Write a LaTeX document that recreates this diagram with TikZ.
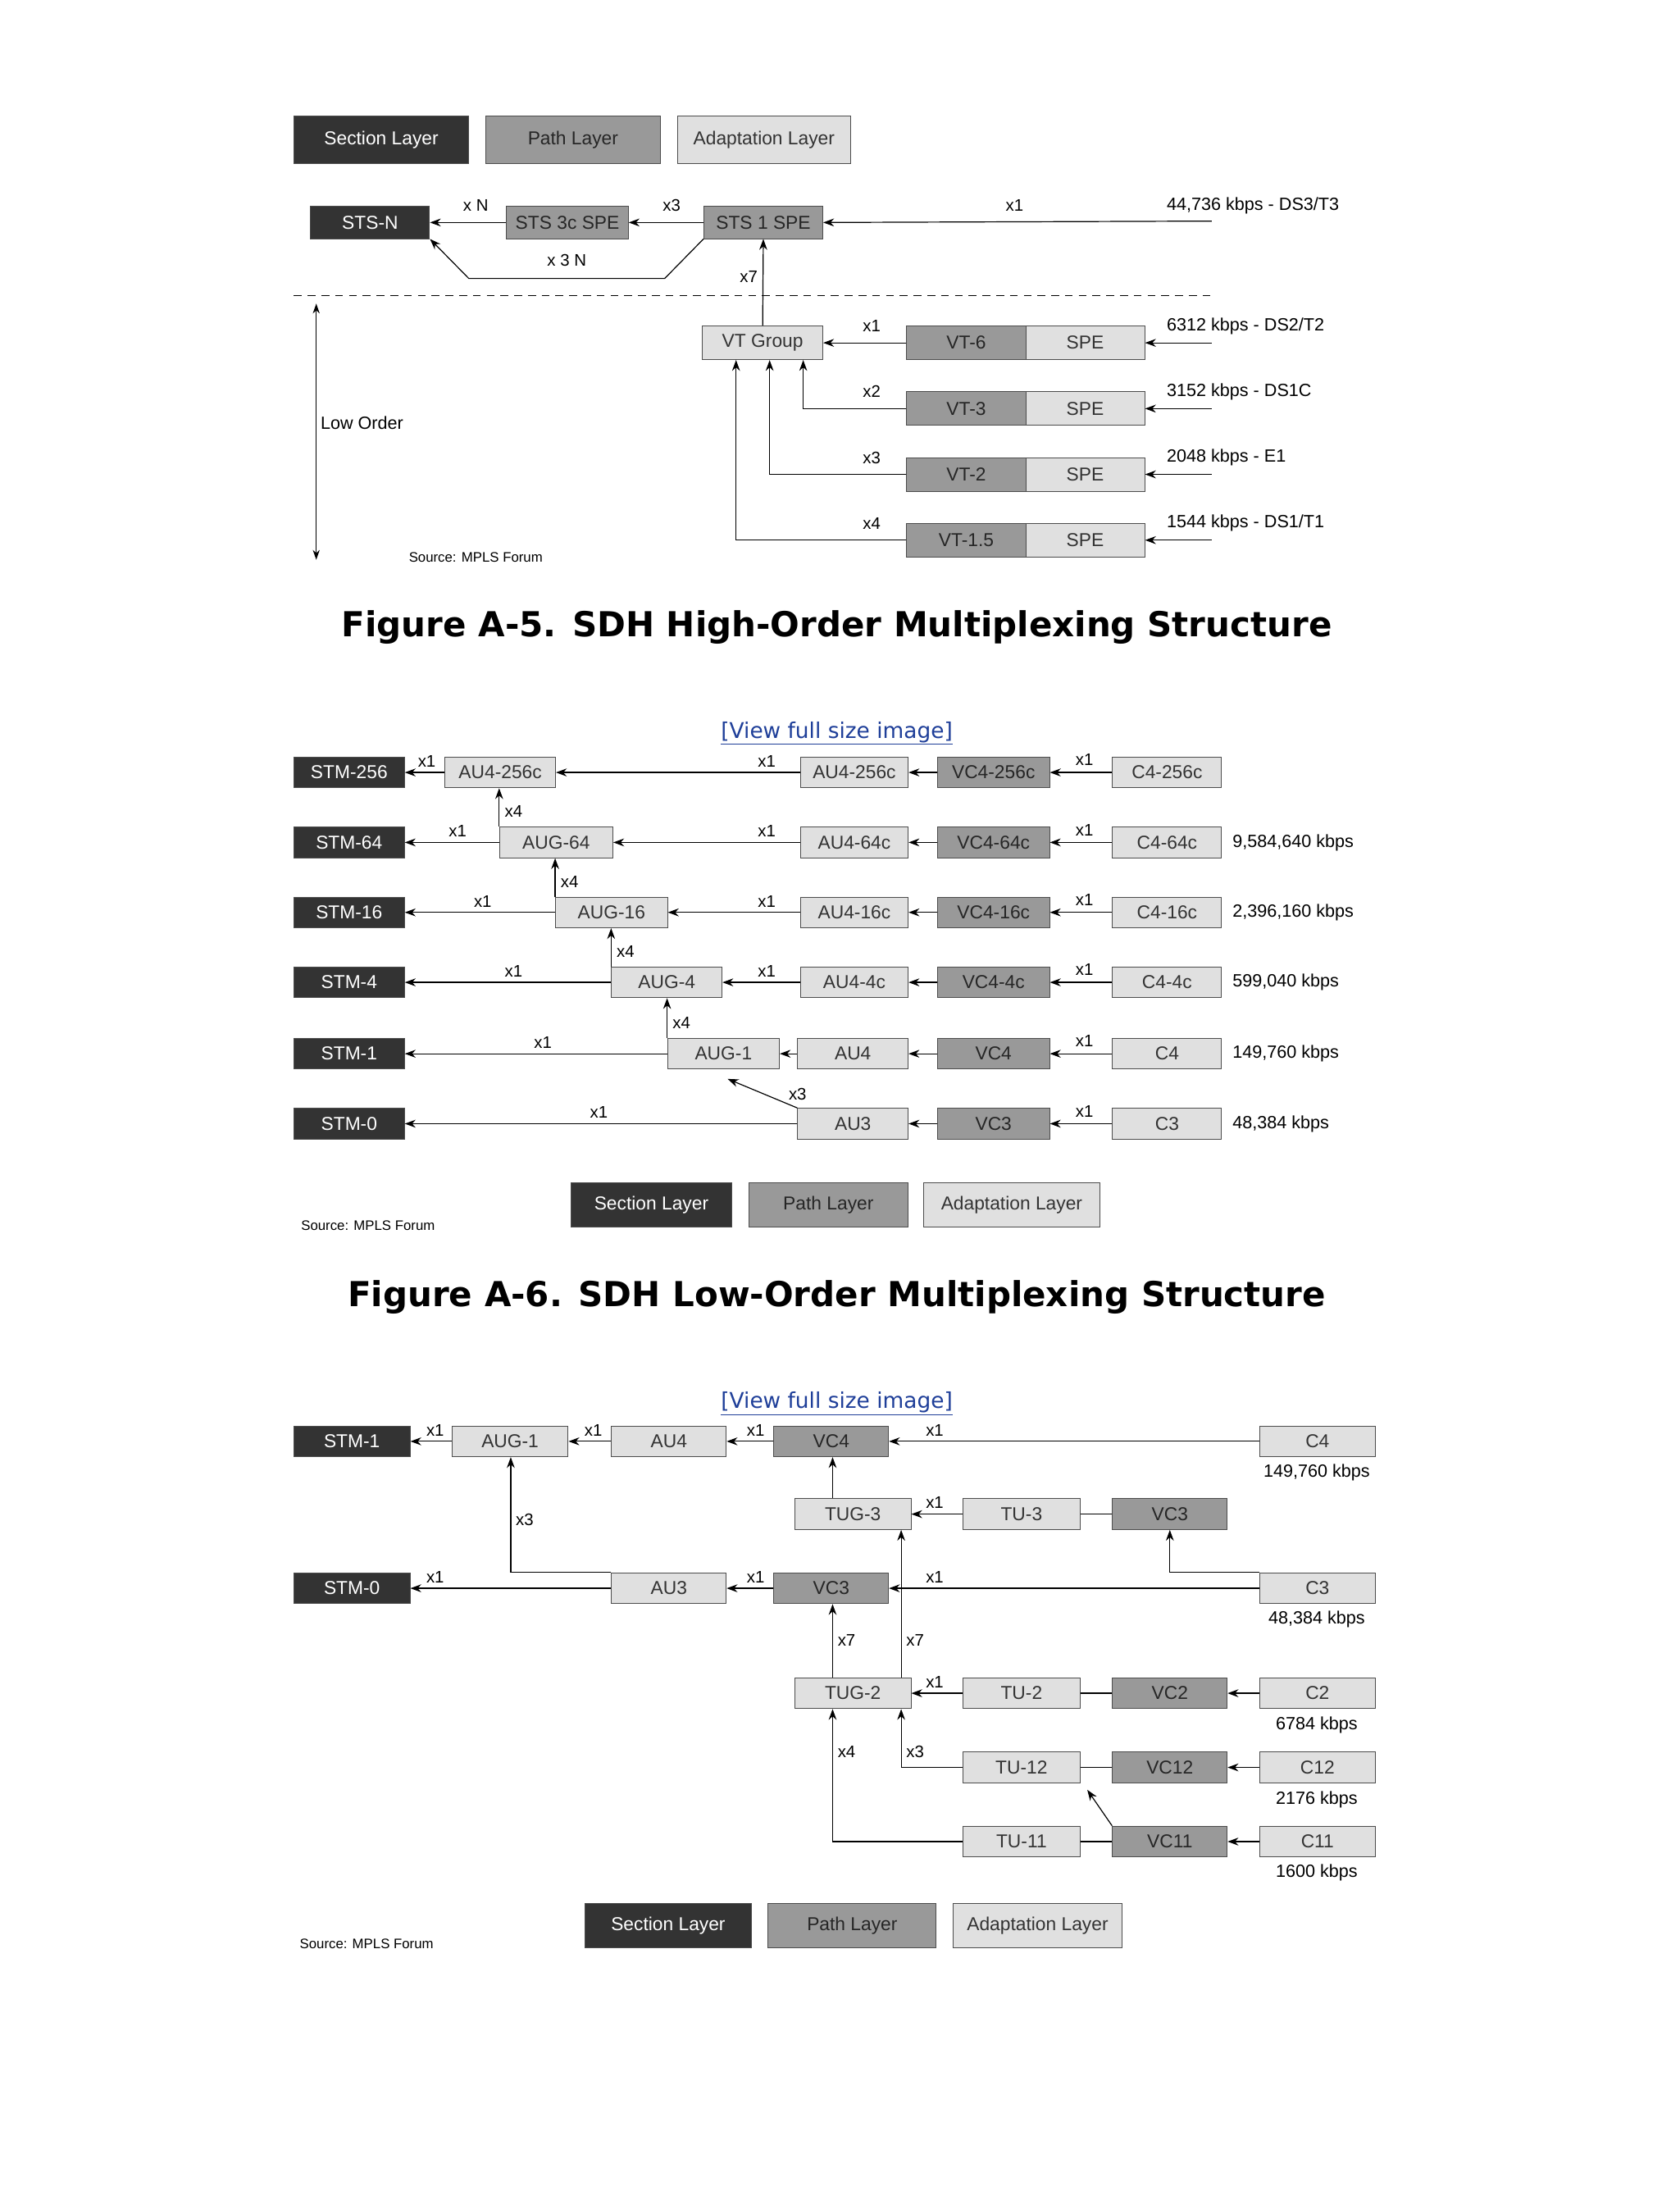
\documentclass[tikz,border=0pt]{standalone}
\usepackage{fontspec}
\setmainfont{Liberation Sans}
\newfontfamily\capfont{DejaVu Sans}
\usetikzlibrary{arrows.meta}
\definecolor{secc}{HTML}{333333}
\definecolor{pathc}{HTML}{999999}
\definecolor{adc}{HTML}{E0E0E0}
\definecolor{linkc}{HTML}{1F3F99}
\tikzset{
 box/.style={draw=black!70,line width=0.8pt,inner sep=0pt,font=\fontsize{19}{22}\selectfont},
 sec/.style={box,fill=secc,text=white},
 pth/.style={box,fill=pathc,text=black!85},
 adp/.style={box,fill=adc,text=black!80},
 ar/.style={draw,line width=1pt,-{Stealth[length=11pt,width=8pt]}},
 ln/.style={draw,line width=1pt},
 lbl/.style={font=\fontsize{17}{20}\selectfont,inner sep=1pt},
 rate/.style={font=\fontsize{18}{21}\selectfont,inner sep=1pt,anchor=west},
 src/.style={font=\fontsize{14}{16}\selectfont,inner sep=0pt},
 capt/.style={font=\capfont\bfseries\fontsize{35}{40}\selectfont},
 vf/.style={font=\capfont\fontsize{22}{26}\selectfont,text=linkc},
}
\newcommand\bx[7]{\node[#1,minimum width={(#4-#3)*0.05cm},minimum height={#6*0.05cm}] (#2) at ({(#3+#4)/2},#5) {#7};}
\begin{document}
\begin{tikzpicture}[x=0.05cm,y=-0.05cm]
\fill[white] (0,0) rectangle (1200,1575);
\useasboundingbox (0,0) rectangle (1200,1575);
% ===== Figure 1 =====
\bx{sec}{l1a}{210}{335}{100}{34}{Section Layer}
\bx{pth}{l1b}{347}{472}{100}{34}{Path Layer}
\bx{adp}{l1c}{484}{608}{100}{34}{Adaptation Layer}
\bx{sec}{stsn}{222}{307}{159}{23}{STS-N}
\bx{pth}{s3}{362}{449}{159}{23}{STS 3c SPE}
\bx{pth}{s1}{503}{588}{159}{23}{STS 1 SPE}
\coordinate (in1) at (866,158);
\draw[ar] (in1) -- (s1.east);
\node[lbl] (t1) at (725,147) {x1};
\node[rate] (t2) at (833,147) {44,736 kbps - DS3/T3};
\draw[ar] (s1.west) -- (s3.east); \node[lbl] (t3) at (480,147) {x3};
\draw[ar] (s3.west) -- (stsn.east); \node[lbl] (t4) at (340,147) {x N};
\coordinate (b1) at (475,199); \coordinate (b2) at (335,199);
\draw[ar] (s1.south west) -- (b1) -- (b2) -- (stsn.south east);
\node[lbl] (t5) at (405,186) {x 3 N};
\coordinate (d1) at (210,211); \coordinate (d2) at (866,211);
\draw[line width=1pt,dash pattern=on 8pt off 6pt] (d1) -- (d2);
\bx{adp}{vtg}{502}{588}{245}{24}{VT Group}
\draw[ar] (vtg.north) -- (s1.south); \node[lbl] (t6) at (535,198) {x7};
\foreach \n/\t/\y/\r/\m in {6/VT-6/245/{6312 kbps - DS2/T2}/x1,3/VT-3/292/{3152 kbps - DS1C}/x2,2/VT-2/339/{2048 kbps - E1}/x3,15/VT-1.5/386/{1544 kbps - DS1/T1}/x4}{
 \bx{pth}{vt\n}{648}{733}{\y}{24}{\t}
 \bx{adp}{spe\n}{733}{818}{\y}{24}{SPE}
 \coordinate (rin\n) at (866,\y);
 \draw[ar] (rin\n) -- (spe\n.east);
 \node[rate] (rt\n) at (833,\y-12) {\r};
 \node[lbl] (mx\n) at (623,\y-12) {\m};
}
\draw[ar] (vt6.west) -- (vtg.east);
\draw[ar] (vt3.west) -| (574,0 |- vtg.south);
\draw[ar] (vt2.west) -| (550,0 |- vtg.south);
\draw[ar] (vt15.west) -| (526,0 |- vtg.south);
\coordinate (lo1) at (226,217); \coordinate (lo2) at (226,400);
\draw[line width=1pt,{Stealth[length=10pt,width=7pt]}-{Stealth[length=10pt,width=7pt]}] (lo1) -- (lo2);
\node[font=\fontsize{18}{21}\selectfont,anchor=west,inner sep=0pt] (lot) at (229,302) {Low Order};
\node[src] (src1) at (340,398) {Source: MPLS Forum};
\node[capt] (cap1) at (598,448) {Figure A-5. SDH High-Order Multiplexing Structure};
% ===== Figure 2 =====
\node[vf] (vf1) at (598,524) {\underline{[View full size image]}};
\bx{sec}{stm256}{210}{289}{552}{22}{STM-256}
\bx{adp}{aua}{318}{397}{552}{22}{AU4-256c}
\bx{adp}{au256}{572}{649}{552}{22}{AU4-256c}
\bx{pth}{vc256}{670}{750}{552}{22}{VC4-256c}
\bx{adp}{c256}{795}{873}{552}{22}{C4-256c}
\bx{sec}{stm64}{210}{289}{602}{22}{STM-64}
\bx{adp}{aug64}{357}{438}{602}{22}{AUG-64}
\bx{adp}{au64}{572}{649}{602}{22}{AU4-64c}
\bx{pth}{vc64}{670}{750}{602}{22}{VC4-64c}
\bx{adp}{c64}{795}{873}{602}{22}{C4-64c}
\bx{sec}{stm16}{210}{289}{652}{22}{STM-16}
\bx{adp}{aug16}{397}{477}{652}{22}{AUG-16}
\bx{adp}{au16}{572}{649}{652}{22}{AU4-16c}
\bx{pth}{vc16}{670}{750}{652}{22}{VC4-16c}
\bx{adp}{c16}{795}{873}{652}{22}{C4-16c}
\bx{sec}{stm4}{210}{289}{702}{22}{STM-4}
\bx{adp}{aug4}{437}{516}{702}{22}{AUG-4}
\bx{adp}{au4c}{572}{649}{702}{22}{AU4-4c}
\bx{pth}{vc4c}{670}{750}{702}{22}{VC4-4c}
\bx{adp}{c4c}{795}{873}{702}{22}{C4-4c}
\bx{sec}{stm1}{210}{289}{753}{22}{STM-1}
\bx{adp}{aug1}{477}{557}{753}{22}{AUG-1}
\bx{adp}{au4}{570}{649}{753}{22}{AU4}
\bx{pth}{vc4}{670}{750}{753}{22}{VC4}
\bx{adp}{c4}{795}{873}{753}{22}{C4}
\bx{sec}{stm0}{210}{289}{803}{22}{STM-0}
\bx{adp}{au3}{570}{649}{803}{22}{AU3}
\bx{pth}{vc3}{670}{750}{803}{22}{VC3}
\bx{adp}{c3}{795}{873}{803}{22}{C3}
\foreach \a/\b in {c256/vc256,vc256/au256,c64/vc64,vc64/au64,c16/vc16,vc16/au16,c4c/vc4c,vc4c/au4c,c4/vc4,vc4/au4,au4/aug1,c3/vc3,vc3/au3}{\draw[ar] (\a.west) -- (\b.east);}
\foreach \y in {552,602,652,702,753,803}{\node[lbl] at (775,\y-9) {x1};}
\draw[ar] (au256.west) -- (aua.east); \node[lbl] at (548,544) {x1};
\draw[ar] (aua.west) -- (stm256.east); \node[lbl] at (305,544) {x1};
\draw[ar] (au64.west) -- (aug64.east); \node[lbl] at (548,594) {x1};
\draw[ar] (aug64.west) -- (stm64.east); \node[lbl] at (327,594) {x1};
\draw[ar] (au16.west) -- (aug16.east); \node[lbl] at (548,644) {x1};
\draw[ar] (aug16.west) -- (stm16.east); \node[lbl] at (345,644) {x1};
\draw[ar] (au4c.west) -- (aug4.east); \node[lbl] at (548,694) {x1};
\draw[ar] (aug4.west) -- (stm4.east); \node[lbl] at (367,694) {x1};
\draw[ar] (aug1.west) -- (stm1.east); \node[lbl] at (388,745) {x1};
\draw[ar] (au3.west) -- (stm0.east); \node[lbl] at (428,795) {x1};
\draw[ar] (aug64.north west) -- (aua.south -| aug64.north west); \node[lbl] at (367,580) {x4};
\draw[ar] (aug16.north west) -- (aug64.south -| aug16.north west); \node[lbl] at (407,630) {x4};
\draw[ar] (aug4.north west) -- (aug16.south -| aug4.north west); \node[lbl] at (447,680) {x4};
\draw[ar] (aug1.north west) -- (aug4.south -| aug1.north west); \node[lbl] at (487,731) {x4};
\coordinate (dg) at (520,771);
\draw[ar] (au3.north west) -- (dg); \node[lbl] at (570,782) {x3};
\node[rate] at (880,602) {9,584,640 kbps};
\node[rate] at (880,652) {2,396,160 kbps};
\node[rate] at (880,702) {599,040 kbps};
\node[rate] at (880,753) {149,760 kbps};
\node[rate] at (880,803) {48,384 kbps};
\bx{sec}{l2a}{408}{523}{861}{32}{Section Layer}
\bx{pth}{l2b}{535}{649}{861}{32}{Path Layer}
\bx{adp}{l2c}{660}{786}{861}{32}{Adaptation Layer}
\node[src] (src2) at (263,876) {Source: MPLS Forum};
\node[capt] (cap2) at (598,927) {Figure A-6. SDH Low-Order Multiplexing Structure};
% ===== Figure 3 =====
\node[vf] (vf2) at (598,1003) {\underline{[View full size image]}};
\bx{sec}{fstm1}{210}{293}{1030}{22}{STM-1}
\bx{adp}{faug1}{323}{406}{1030}{22}{AUG-1}
\bx{adp}{fau4}{437}{519}{1030}{22}{AU4}
\bx{pth}{fvc4}{553}{635}{1030}{22}{VC4}
\bx{adp}{fc4}{900}{983}{1030}{22}{C4}
\bx{adp}{tug3}{568}{651}{1082}{22}{TUG-3}
\bx{adp}{tu3}{688}{772}{1082}{22}{TU-3}
\bx{pth}{fvc3b}{795}{877}{1082}{22}{VC3}
\bx{sec}{fstm0}{210}{293}{1135}{22}{STM-0}
\bx{adp}{fau3}{437}{519}{1135}{22}{AU3}
\bx{pth}{fvc3}{553}{635}{1135}{22}{VC3}
\bx{adp}{fc3}{900}{983}{1135}{22}{C3}
\bx{adp}{tug2}{568}{651}{1210}{22}{TUG-2}
\bx{adp}{tu2}{688}{772}{1210}{22}{TU-2}
\bx{pth}{vc2}{795}{877}{1210}{22}{VC2}
\bx{adp}{c2}{900}{983}{1210}{22}{C2}
\bx{adp}{tu12}{688}{772}{1263}{22}{TU-12}
\bx{pth}{vc12}{795}{877}{1263}{22}{VC12}
\bx{adp}{c12}{900}{983}{1263}{22}{C12}
\bx{adp}{tu11}{688}{772}{1316}{22}{TU-11}
\bx{pth}{vc11}{795}{877}{1316}{22}{VC11}
\bx{adp}{c11}{900}{983}{1316}{22}{C11}
\draw[ar] (fc4.west) -- (fvc4.east); \node[lbl] at (668,1022) {x1};
\draw[ar] (fvc4.west) -- (fau4.east); \node[lbl] at (540,1022) {x1};
\draw[ar] (fau4.west) -- (faug1.east); \node[lbl] at (424,1022) {x1};
\draw[ar] (faug1.west) -- (fstm1.east); \node[lbl] at (311,1022) {x1};
\draw[ar] (tug3.north -| 595,0) -- (fvc4.south -| 595,0);
\draw[ln] (fvc3b.west) -- (tu3.east);
\draw[ar] (tu3.west) -- (tug3.east); \node[lbl] at (668,1074) {x1};
\draw[ar] (fc3.west) -- (fvc3.east); \node[lbl] at (668,1127) {x1};
\draw[ar] (fc3.north west) -| (fvc3b.south -| 836,0);
\draw[ar] (fvc3.west) -- (fau3.east); \node[lbl] at (540,1127) {x1};
\draw[ar] (fau3.west) -- (fstm0.east); \node[lbl] at (311,1127) {x1};
\draw[ar] (fau3.north west) -| (faug1.south -| 365,0); \node[lbl] at (375,1086) {x3};
\draw[ar] (tug2.north -| 595,0) -- (fvc3.south -| 595,0); \node[lbl] at (605,1172) {x7};
\draw[ar] (tug2.north -| 644,0) -- (tug3.south -| 644,0); \node[lbl] at (654,1172) {x7};
\draw[ar] (c2.west) -- (vc2.east);
\draw[ln] (vc2.west) -- (tu2.east);
\draw[ar] (tu2.west) -- (tug2.east); \node[lbl] at (668,1202) {x1};
\draw[ar] (c12.west) -- (vc12.east);
\draw[ln] (vc12.west) -- (tu12.east);
\draw[ar] (tu12.west) -| (tug2.south -| 644,0); \node[lbl] at (654,1252) {x3};
\draw[ar] (c11.west) -- (vc11.east);
\draw[ln] (vc11.west) -- (tu11.east);
\draw[ar] (tu11.west) -| (tug2.south -| 595,0); \node[lbl] at (605,1252) {x4};
\coordinate (dg2) at (777,1279);
\draw[ar] (vc11.north west) -- (dg2);
\node[rate,anchor=center] at (941,1052) {149,760 kbps};
\node[rate,anchor=center] at (941,1157) {48,384 kbps};
\node[rate,anchor=center] at (941,1233) {6784 kbps};
\node[rate,anchor=center] at (941,1286) {2176 kbps};
\node[rate,anchor=center] at (941,1338) {1600 kbps};
\bx{sec}{l3a}{418}{537}{1376}{32}{Section Layer}
\bx{pth}{l3b}{549}{669}{1376}{32}{Path Layer}
\bx{adp}{l3c}{681}{802}{1376}{32}{Adaptation Layer}
\node[src] (src3) at (262,1389) {Source: MPLS Forum};
\end{tikzpicture}
\end{document}
